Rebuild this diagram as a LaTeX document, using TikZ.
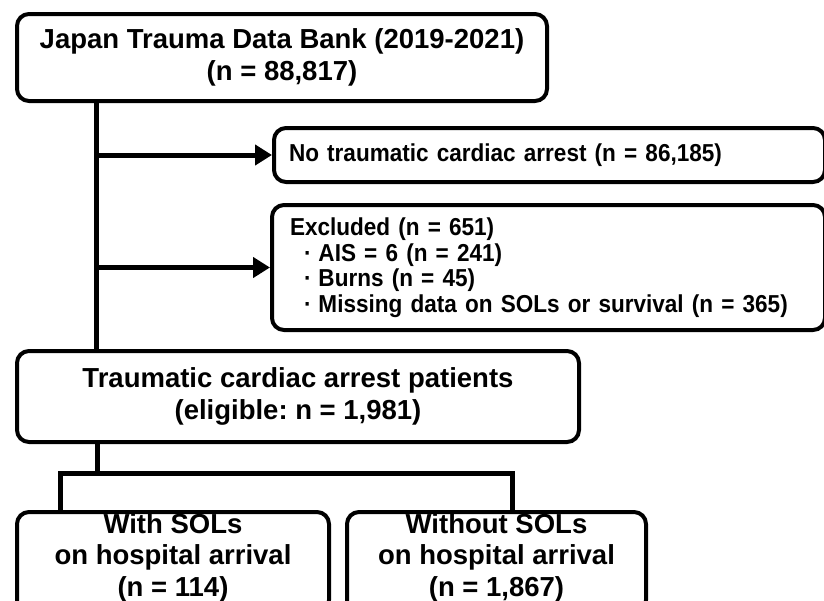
\documentclass[tikz,border=0pt]{standalone}
\usepackage{fontspec}
\setmainfont{Liberation Sans}
\newfontfamily\narrowfont[FakeStretch=0.92]{Liberation Sans}
\usetikzlibrary{arrows.meta,positioning}
\newcommand{\bigtxt}{\fontsize{27.5}{32.5}\selectfont\bfseries}
\newcommand{\bottxt}{\fontsize{27.5}{31.5}\selectfont\bfseries}
\newcommand{\smalltxt}{\narrowfont\fontsize{24.5}{25.5}\selectfont\bfseries}
\newcommand{\dotitem}{\hspace*{14pt}\textperiodcentered\hspace{7pt}}
\tikzstyle{recNode} = [rectangle, draw=black, line width=4pt, rounded corners=12pt, inner sep=0pt, text centered, text=black]
\tikzstyle{recNodeL} = [recNode, font=\bigtxt, align=center]
\tikzstyle{recNodeB} = [recNode, font=\bottxt, align=center, inner ysep=0pt, text height=84pt, text depth=16pt]
\tikzstyle{recNodeS} = [recNode, font=\smalltxt, align=left]
\tikzstyle{lineK} = [line width=5pt, draw=black]
\tikzstyle{arrowK} = [lineK, -{Triangle[length=17pt,width=20pt]}]

\begin{document}
\frenchspacing
\begin{tikzpicture}
    \useasboundingbox (0,0) rectangle (824pt,-600pt);
    \node (jtdb) [recNodeL, minimum width=530pt, minimum height=87pt, anchor=north west] at (15pt,-12pt) {Japan Trauma Data Bank (2019-2021)\\(n = 88,817)};
    \node (notca) [recNodeS, below right=23pt and 257pt of jtdb.south west, minimum height=54pt, text width=521pt, inner xsep=15pt] {No traumatic cardiac arrest (n = 86,185)};
    \node (excl) [recNodeS, below right=19pt and -2pt of notca.south west, minimum height=125pt, text width=517pt, inner xsep=18pt] {Excluded (n = 651)\\\dotitem AIS = 6 (n = 241)\\\dotitem Burns (n = 45)\\\dotitem Missing data on SOLs or survival (n = 365)};
    \node (tca) [recNodeL, below right=246pt and 0pt of jtdb.south west, minimum width=562pt, minimum height=91pt] {Traumatic cardiac arrest patients\\(eligible: n = 1,981)};
    \node (with) [recNodeB, below right=66pt and 0pt of tca.south west, minimum width=312pt] {With SOLs\\on hospital arrival\\(n = 114)};
    \node (without) [recNodeB, right=14pt of with, minimum width=299pt] {Without SOLs\\on hospital arrival\\(n = 1,867)};

    \coordinate (trunk) at ([xshift=81pt]jtdb.south west);
    \draw [lineK] (trunk) -- (trunk |- tca.north);
    \draw [arrowK] (trunk |- notca.west) -- (notca.west);
    \draw [arrowK] (trunk |- excl.west) -- (excl.west);

    \coordinate (split) at ([xshift=82pt,yshift=-29pt]tca.south west);
    \draw [lineK] (split |- tca.south) -- (split);
    \draw [lineK] ([xshift=45pt]with.north west) |- (split) -| ([xshift=167pt]without.north west);
\end{tikzpicture}
\end{document}
